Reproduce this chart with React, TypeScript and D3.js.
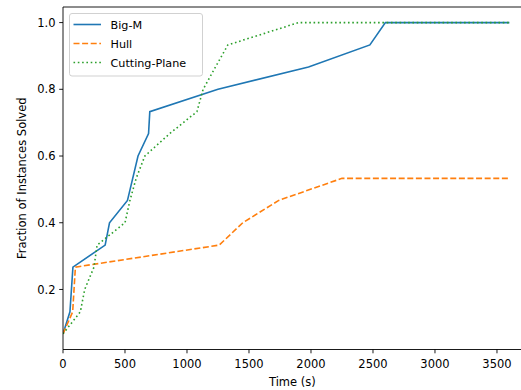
import React from 'react'
import * as d3 from 'd3'

// fraction of instances solved vs time, one series per formulation
const bigM: [number, number][] = [
  [0, 0.067], [56, 0.133], [80, 0.267], [340, 0.333], [375, 0.4], [520, 0.467],
  [605, 0.6], [690, 0.667], [700, 0.733], [1250, 0.8], [1980, 0.867],
  [2475, 0.933], [2600, 1.0], [3600, 1.0],
]
const hull: [number, number][] = [
  [0, 0.067], [78, 0.133], [100, 0.267], [1260, 0.333], [1450, 0.4],
  [1740, 0.467], [2250, 0.533], [3600, 0.533],
]
const cuttingPlane: [number, number][] = [
  [0, 0.067], [140, 0.133], [175, 0.2], [250, 0.267], [275, 0.333], [500, 0.4],
  [540, 0.467], [590, 0.533], [660, 0.6], [860, 0.667], [1080, 0.733],
  [1130, 0.8], [1230, 0.867], [1330, 0.933], [1900, 1.0], [3600, 1.0],
]

const seriesNames = ['Big-M', 'Hull', 'Cutting-Plane']
const seriesColors = ['#1f77b4', '#ff7f0e', '#2ca02c']
const seriesDash = ['', '6,2.6', '1.6,2.7']

const xTicks = [0, 500, 1000, 1500, 2000, 2500, 3000, 3500]
const yTicks = [0.2, 0.4, 0.6, 0.8, 1.0]

const W = 521
const H = 390
const margin = {left: 63, top: 7, bottom: 349.5, right: 531.7}

function App() {
  const x = d3.scaleLinear().domain([0, 3780]).range([margin.left, margin.right])
  const y = d3.scaleLinear().domain([0.02, 1.0467]).range([margin.bottom, margin.top])
  const line = d3
    .line<[number, number]>()
    .x(d => x(d[0]))
    .y(d => y(d[1]))

  const data = [bigM, hull, cuttingPlane]
  const font = 'DejaVu Sans, sans-serif'
  const fs = 11.5

  return (
    <svg width={W} height={H} style={{position: 'absolute', left: 0, top: 0}} fontFamily={font}>
      <rect width={W} height={H} fill="white" />
      <defs>
        <clipPath id="plot">
          <rect x={margin.left} y={margin.top} width={margin.right - margin.left} height={margin.bottom - margin.top} />
        </clipPath>
      </defs>

      <g clipPath="url(#plot)">
        {data.map((d, i) => (
          <path
            key={i}
            d={line(d) || ''}
            fill="none"
            stroke={seriesColors[i]}
            strokeWidth={1.6}
            strokeDasharray={seriesDash[i] || undefined}
          />
        ))}
      </g>

      {/* spines (right one falls outside the picture) */}
      <g stroke="black" strokeWidth={0.9} fill="none">
        <line x1={margin.left} x2={margin.left} y1={margin.top} y2={margin.bottom} />
        <line x1={margin.left} x2={W} y1={margin.bottom} y2={margin.bottom} />
        <line x1={margin.left} x2={W} y1={margin.top} y2={margin.top} />
      </g>

      {/* x axis */}
      {xTicks.map(t => (
        <g key={t} transform={`translate(${x(t)},${margin.bottom})`}>
          <line y2={3.8} stroke="black" strokeWidth={0.9} />
          <text y={18} textAnchor="middle" fontSize={fs}>{t}</text>
        </g>
      ))}
      <text x={x(1850)} y={386} textAnchor="middle" fontSize={fs}>Time (s)</text>

      {/* y axis */}
      {yTicks.map(t => (
        <g key={t} transform={`translate(${margin.left},${y(t)})`}>
          <line x2={-3.8} stroke="black" strokeWidth={0.9} />
          <text x={-7.5} dy="0.36em" textAnchor="end" fontSize={fs}>{t.toFixed(1)}</text>
        </g>
      ))}
      <text
        transform={`translate(26,${(margin.top + margin.bottom) / 2}) rotate(-90)`}
        textAnchor="middle"
        fontSize={fs}>
        Fraction of Instances Solved
      </text>

      {/* legend */}
      <g transform="translate(69.5,13.5)">
        <rect width={133} height={62.5} rx={2.5} fill="white" fillOpacity={0.8} stroke="#cccccc" strokeWidth={0.9} />
        {seriesNames.map((name, i) => (
          <g key={name} transform={`translate(0,${11 + i * 19})`}>
            <line
              x1={4}
              x2={31.5}
              stroke={seriesColors[i]}
              strokeWidth={1.6}
              strokeDasharray={seriesDash[i] || undefined}
            />
            <text x={41} dy="0.36em" fontSize={11.2}>{name}</text>
          </g>
        ))}
      </g>
    </svg>
  )
}

export default App
